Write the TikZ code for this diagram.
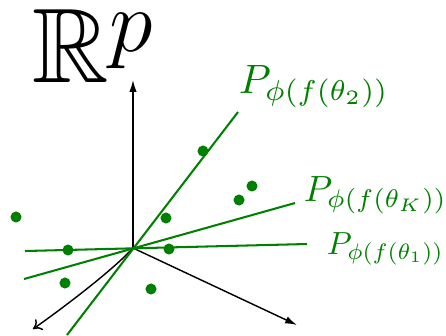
\documentclass[tikz,border=0pt]{standalone}
\usepackage{amsmath,amssymb}
\usepackage{graphicx}
\usepackage{tikz}
\usetikzlibrary{arrows.meta}
\definecolor{proj}{HTML}{008000}

\begin{document}
\begin{tikzpicture}[x=0.244pt, y=-0.244pt, every node/.style={inner sep=0pt},
  pt/.style={circle, fill=proj, minimum size=2.7pt},
  axis/.style={black, line width=0.35pt},
  projline/.style={proj, line width=0.5pt}]
\useasboundingbox (0,0) rectangle (446,335);
% axes
\coordinate (o) at (133,248);
\coordinate (up) at (133,80);
\coordinate (right) at (297,325);
\coordinate (left) at (33,329);
\draw[axis, -{Latex[length=2.9pt,width=1.8pt]}] (o) -- (up);
\draw[axis, -{Latex[length=2.9pt,width=1.8pt]}] (o) -- (right);
\draw[axis, -{Computer Modern Rightarrow[length=2pt,width=3.2pt]}] (o) .. controls (113,270) and (63,308) .. (left);
\node[anchor=base west] (rp) at (32,82) {\scalebox{1.04}{\Huge $\mathbb{R}^{\lower1.8pt\hbox{$\scriptstyle p$}}$}};
% projection lines
\coordinate (a2) at (67,335);  \coordinate (b2) at (238,112);
\coordinate (ak) at (24,279);  \coordinate (bk) at (295,203);
\coordinate (a1) at (25,251);  \coordinate (b1) at (307,244);
\draw[projline] (a2) -- (b2);
\draw[projline] (ak) -- (bk);
\draw[projline] (a1) -- (b1);
\node[text=proj, anchor=base west] (l2) at (238,93) {$P_{\phi(f(\theta_2))}$};
\node[text=proj, anchor=base west] (lk) at (303,201) {\scalebox{0.89}{$P_{\phi(f(\theta_K))}$}};
\node[text=proj, anchor=base west] (l1) at (326,254) {\scalebox{0.78}{$P_{\phi(f(\theta_1))}$}};
% data points
\node[pt] (d1) at (16,217) {};
\node[pt] (d2) at (68,250) {};
\node[pt] (d3) at (65,283) {};
\node[pt] (d4) at (151,289) {};
\node[pt] (d5) at (166,218) {};
\node[pt] (d6) at (169,249) {};
\node[pt] (d7) at (203,151) {};
\node[pt] (d8) at (239,200) {};
\node[pt] (d9) at (252,186) {};
\end{tikzpicture}
\end{document}
